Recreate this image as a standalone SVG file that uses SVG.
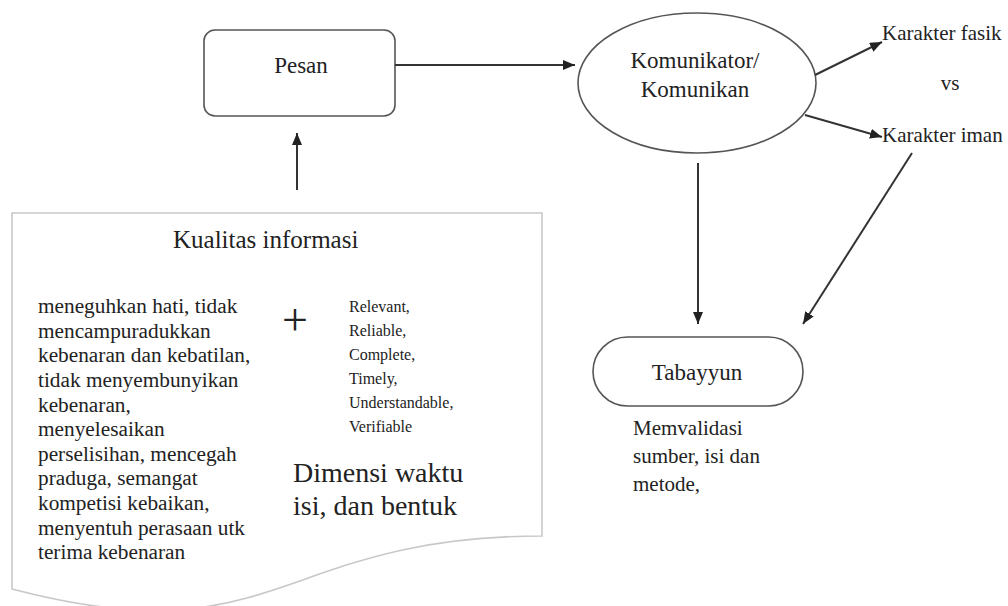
<svg xmlns="http://www.w3.org/2000/svg" width="1008" height="606" viewBox="0 0 1008 606" font-family="'Liberation Serif', 'DejaVu Serif', 'Times New Roman', serif">
<defs>
<style>
text{font-family:'Liberation Serif','DejaVu Serif','Times New Roman',serif;fill:#222}
.box{fill:#fff;stroke:#555;stroke-width:1.6}
.doc{fill:#fff;stroke:#c8c8c8;stroke-width:1.6}
.conn line{stroke:#333;stroke-width:2;fill:none}
.arr{marker-end:url(#ah)}
</style>
<marker id="ah" markerUnits="userSpaceOnUse" markerWidth="13" markerHeight="11" refX="12" refY="5" orient="auto">
<path d="M0,0 L12,5 L0,10 z" fill="#222"/>
</marker>
</defs>
<rect width="1008" height="606" fill="#fff"/>
<g id="kualitas">
<path class="doc" d="M12,213 L542,213 L542,536 C277,536 277,659 12,589 Z"/>
<text x="173" y="248" font-size="25">Kualitas informasi</text>
<text font-size="21.3">
<tspan x="38" y="313">meneguhkan hati, tidak</tspan>
<tspan x="38" y="338">mencampuradukkan</tspan>
<tspan x="38" y="362">kebenaran dan kebatilan,</tspan>
<tspan x="38" y="387">tidak menyembunyikan</tspan>
<tspan x="38" y="412">kebenaran,</tspan>
<tspan x="38" y="436">menyelesaikan</tspan>
<tspan x="38" y="461">perselisihan, mencegah</tspan>
<tspan x="38" y="485">praduga, semangat</tspan>
<tspan x="38" y="510">kompetisi kebaikan,</tspan>
<tspan x="38" y="535">menyentuh perasaan utk</tspan>
<tspan x="38" y="559">terima kebenaran</tspan>
</text>
<text x="295" y="335" font-size="46" text-anchor="middle">+</text>
<text font-size="16">
<tspan x="349" y="312">Relevant,</tspan>
<tspan x="349" y="336">Reliable,</tspan>
<tspan x="349" y="360">Complete,</tspan>
<tspan x="349" y="384">Timely,</tspan>
<tspan x="349" y="408">Understandable,</tspan>
<tspan x="349" y="432">Verifiable</tspan>
</text>
<text font-size="28">
<tspan x="293" y="482">Dimensi waktu</tspan>
<tspan x="293" y="515">isi, dan bentuk</tspan>
</text>
</g>
<g id="pesan">
<rect class="box" x="204" y="30" width="191" height="86" rx="11"/>
<text x="301" y="73" font-size="23" text-anchor="middle">Pesan</text>
</g>
<g id="komunikator">
<ellipse class="box" cx="697" cy="83" rx="119" ry="70" stroke="#444"/>
<text x="695" y="68" font-size="23" text-anchor="middle">Komunikator/</text>
<text x="695" y="97" font-size="23" text-anchor="middle">Komunikan</text>
</g>
<g id="fasik">
<text x="882" y="40" font-size="21">Karakter fasik</text>
</g>
<g id="vs">
<text x="950" y="90" font-size="21" text-anchor="middle">vs</text>
</g>
<g id="iman">
<text x="882" y="142" font-size="21">Karakter iman</text>
</g>
<g id="tabayyun">
<rect class="box" x="593" y="337" width="210" height="69" rx="34.5"/>
<text x="697" y="380" font-size="23" text-anchor="middle">Tabayyun</text>
<text font-size="21">
<tspan x="633" y="435">Memvalidasi</tspan>
<tspan x="633" y="463">sumber, isi dan</tspan>
<tspan x="633" y="491">metode,</tspan>
</text>
</g>
<g class="conn" id="connectors">
<line class="arr" x1="395" y1="65" x2="575" y2="65"/>
<line class="arr" x1="297" y1="190" x2="297" y2="133"/>
<line class="arr" x1="815" y1="75" x2="882" y2="42"/>
<line class="arr" x1="805" y1="115" x2="882" y2="137"/>
<line class="arr" x1="698" y1="163" x2="698" y2="324"/>
<line class="arr" x1="912" y1="153" x2="803" y2="324"/>
</g>
</svg>
